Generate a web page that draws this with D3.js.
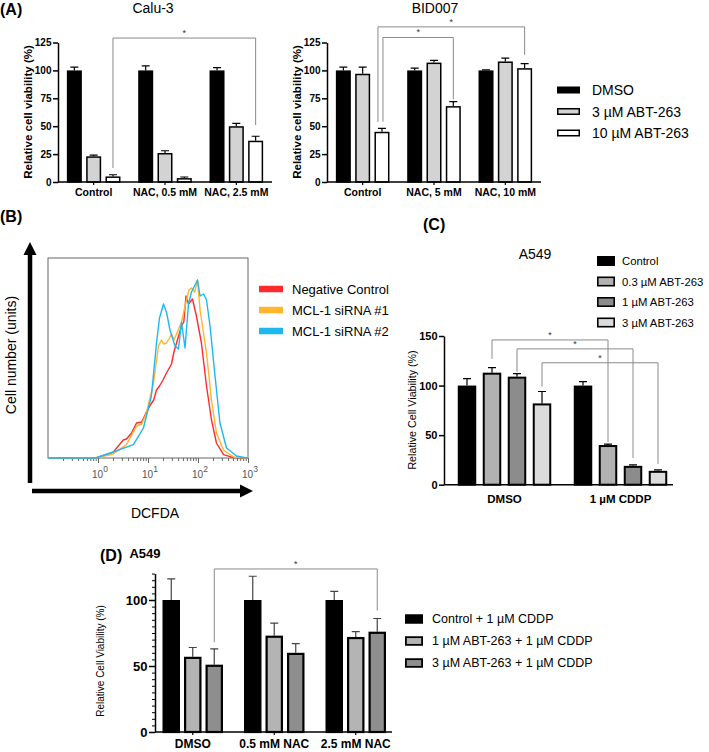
<!DOCTYPE html>
<html lang="en">
<head>
  <meta charset="UTF-8">
  <title>ABT-263 / NAC viability figure</title>
  <script src="https://d3js.org/d3.v7.min.js"></script>
  <style>
    body { margin: 0; background: #fff; font-family: 'Liberation Sans', Arial, sans-serif; }
    svg { display: block; }
  </style>
</head>
<body>
  <svg id="fig" width="709" height="752"></svg>

  <script>
    // ---- (A) Calu-3 / BID007
    const aSeries = ["DMSO", "3 µM ABT-263", "10 µM ABT-263"];
    const calu3Groups = ["Control", "NAC, 0.5 mM", "NAC, 2.5 mM"];
    const calu3Mean = [[100, 23, 5], [100, 26, 3.5], [100, 50, 37]];
    const calu3Err = [[3, 1, 1.5], [4, 2, 1], [2.5, 2.5, 4]];
    const bidGroups = ["Control", "NAC, 5 mM", "NAC, 10 mM"];
    const bidMean = [[100, 97, 45], [100, 107, 68], [100, 108, 102]];
    const bidErr = [[3, 6, 3], [2, 2, 4], [0.5, 3, 4]];
    const aTicks = [0, 25, 50, 75, 100, 125];
    // [fromGroup, fromSeries, toGroup, toSeries, fromValue, level, toValue]
    const calu3Brackets = [[0, 2, 2, 2, 12.5, 129, 51]];
    const bidBrackets = [[0, 2, 1, 2, 54, 129.5, 74], [0, 2, 2, 2, 54, 139, 114]];

    // ---- (B) DCFDA histograms: [intensity, count]
    const bSeries = ["Negative Control", "MCL-1 siRNA #1", "MCL-1 siRNA #2"];
    const negCtrl = [[0.1, 0], [0.9, 0], [2.0, 2.8], [3.2, 9], [3.7, 9.5], [4.7, 12.5], [5.5, 16], [5.9, 17.5],
      [7.5, 18], [9.3, 23], [11.5, 27], [13, 29], [14.8, 34], [17, 36], [20, 39], [23.4, 42.5], [29.5, 47],
      [33, 53], [37.2, 57.5], [46.8, 66], [52, 68], [57.5, 81], [64.6, 77], [77.6, 79.5], [93, 71],
      [117, 57.5], [148, 36], [186, 19], [234, 7.5], [324, 1.7], [513, 0.2], [1000, 0]];
    const mcl1 = [[0.1, 0], [0.9, 0], [2.0, 2], [3.7, 6.7], [5.9, 16], [7.5, 17], [9.3, 22.5], [12.9, 37.5],
      [16.2, 56], [18.6, 59], [20.4, 57], [23.4, 57.5], [27, 60], [29.5, 62], [33, 59], [37.2, 62],
      [46.8, 68], [58.9, 79], [66, 84], [74, 85], [86, 83], [97.7, 89], [110, 74], [148, 52.5],
      [186, 29], [234, 12.5], [324, 4], [513, 0.5], [1000, 0]];
    const mcl2 = [[0.1, 0], [0.9, 0], [2.0, 3], [5.1, 6.7], [8.1, 15], [11.7, 31], [14.8, 57.5], [17, 70],
      [20.4, 77], [23.4, 73], [27.5, 64], [34.7, 56], [40.7, 54.5], [46.8, 68], [55, 55], [64.6, 77],
      [74, 83], [97.7, 89], [110, 81], [129, 82], [148, 79], [174, 66], [219, 41], [275, 17.5],
      [372, 5], [589, 1], [933, 0], [1000, 0]];
    const bMajorTicks = [1, 10, 100, 1000];
    const bTickExp = ["0", "1", "2", "3"];

    // ---- (C) A549, CDDP
    const cSeries = ["Control", "0.3 µM ABT-263", "1 µM ABT-263", "3 µM ABT-263"];
    const cGroups = ["DMSO", "1 µM CDDP"];
    const cMean = [[100, 113, 109, 82], [100, 40, 19, 14]];
    const cErr = [[7, 5, 3, 12], [4, 1, 1, 1]];
    const cTicks = [0, 50, 100, 150];
    const cBrackets = [[0, 1, 1, 1, 127, 146, 43], [0, 2, 1, 2, 114, 137, 27], [0, 3, 1, 3, 99, 123, 21]];

    // ---- (D) A549, NAC + CDDP
    const dSeries = ["Control + 1 µM CDDP", "1 µM ABT-263 + 1 µM CDDP", "3 µM ABT-263 + 1 µM CDDP"];
    const dGroups = ["DMSO", "0.5 mM NAC", "2.5 mM NAC"];
    const dMean = [[100, 57, 51], [100, 73, 60], [100, 72, 76]];
    const dErr = [[16, 7, 12], [18, 9.5, 7], [6.5, 4, 10]];
    const dTicks = [0, 50, 100];
    const dBrackets = [[0, 2, 2, 2, 68, 123.5, 92]];

    const svg = d3.select("#fig");
    const FONT = "'Liberation Sans', Arial, sans-serif";

    function txt(x, y, s, size, opts = {}) {
      const t = svg.append("text").attr("x", x).attr("y", y).text(s)
        .attr("font-family", FONT).attr("font-size", size)
        .attr("font-weight", opts.bold ? "bold" : "normal")
        .attr("fill", opts.fill || "#000")
        .attr("text-anchor", opts.anchor || "start");
      if (opts.rotate) t.attr("transform", `rotate(-90,${x},${y})`).attr("dominant-baseline", "central");
      return t;
    }

    function barPanel(cfg) {
      const g = svg.append("g");
      const y = cfg.y;
      const x0 = d3.scaleBand().domain(cfg.groups).range(cfg.xRange);
      const span = cfg.step * (cfg.series.length - 1) + cfg.barW;
      const x1 = d3.scaleBand().domain(cfg.series).range([-span / 2, span / 2])
        .paddingInner(1 - cfg.barW / cfg.step);
      const cx = (gi, si) => x0(cfg.groups[gi]) + x0.bandwidth() / 2 + x1(cfg.series[si]) + cfg.barW / 2;

      const cells = cfg.groups.flatMap((grp, gi) => cfg.series.map((s, si) =>
        ({ gi, si, v: cfg.means[gi][si], e: cfg.errs[gi][si] })));

      // brackets behind the bars
      const br = g.append("g").attr("fill", "none").attr("stroke", "#8a8a8a").attr("stroke-width", 1);
      cfg.brackets.forEach((b, i) => {
        const shift = cfg.bracketShift ? cfg.bracketShift[i] : 0;
        const xa = cx(b[0], b[1]) + shift, xb = cx(b[2], b[3]);
        br.append("path").attr("d", `M${xa},${y(b[4])}V${y(b[5])}H${xb}V${y(b[6])}`);
        g.append("text").attr("x", (xa + xb) / 2).attr("y", y(b[5]) - 2).text("*")
          .attr("text-anchor", "middle").attr("font-size", 9).attr("font-family", FONT).attr("fill", "#333");
      });

      // error bars
      const eg = g.append("g").attr("stroke", cfg.errColor || "#000").attr("stroke-width", 1.2);
      eg.selectAll("path").data(cells).join("path")
        .attr("fill", "none")
        .attr("d", d => {
          const c = cx(d.gi, d.si), top = y(d.v + d.e);
          return `M${c},${y(d.v)}V${top}M${c - cfg.capW / 2},${top}H${c + cfg.capW / 2}`;
        });

      // bars
      const sw = cfg.barStroke;
      g.append("g").selectAll("rect").data(cells).join("rect")
        .attr("x", d => cx(d.gi, d.si) - cfg.barW / 2 + sw / 2)
        .attr("width", cfg.barW - sw)
        .attr("y", d => y(d.v) + sw / 2)
        .attr("height", d => Math.max(0, y(0) - y(d.v) - sw / 2))
        .attr("fill", d => cfg.fills[d.si])
        .attr("stroke", "#000").attr("stroke-width", sw);

      // y axis
      const ya = g.append("g").attr("transform", `translate(${cfg.axisX},0)`);
      if (cfg.minorTicks) {
        ya.append("g").call(d3.axisLeft(y).tickValues(cfg.minorTicks).tickSize(3).tickFormat("").tickSizeOuter(0))
          .call(s => s.select(".domain").remove())
          .call(s => s.selectAll("line").attr("stroke-width", 1));
      }
      ya.append("g").call(d3.axisLeft(y).tickValues(cfg.yTicks).tickSize(cfg.yTickSize).tickPadding(cfg.yPad).tickSizeOuter(0))
        .call(s => s.select(".domain").attr("stroke-width", 1.5))
        .call(s => s.selectAll("line").attr("stroke-width", 1.5))
        .call(s => s.selectAll("text").attr("font-family", FONT).attr("font-weight", "bold")
          .attr("font-size", cfg.yFont).attr("fill", "#000"));

      // x axis
      g.append("g").attr("transform", `translate(0,${y(0)})`)
        .call(d3.axisBottom(x0).tickSize(cfg.xTickSize).tickPadding(cfg.xPad).tickSizeOuter(0))
        .call(s => s.select(".domain").attr("d", `M${cfg.axisX},0H${cfg.xEnd}`).attr("stroke-width", 1.5))
        .call(s => s.selectAll("line").attr("stroke-width", 1.2))
        .call(s => s.selectAll("text").attr("font-family", FONT).attr("font-weight", "bold")
          .attr("font-size", cfg.xFont).attr("fill", "#000"));
    }

    function legend(x, y0, dy, labels, fills, sw, w, h, size, gap, stroke) {
      labels.forEach((lab, i) => {
        const cy = y0 + i * dy;
        svg.append("rect").attr("x", x + sw / 2).attr("y", cy - h / 2 + sw / 2)
          .attr("width", w - sw).attr("height", h - sw)
          .attr("fill", fills[i]).attr("stroke", stroke ? stroke : fills[i]).attr("stroke-width", sw);
        txt(x + w + gap, cy, lab, size).attr("dominant-baseline", "central");
      });
    }

    // ================= (A)
    const aFills = ["#000", "#d3d3d3", "#fff"];
    const yA = d3.scaleLinear().domain([0, 125]).range([182, 42.5]);
    const aCommon = {
      series: aSeries, y: yA, step: 19.3, barW: 15, capW: 8, barStroke: 1.5,
      fills: aFills, yTicks: aTicks, yTickSize: 5, yPad: 1.5, yFont: 10,
      xTickSize: 3, xPad: 4, xFont: 10.5
    };
    barPanel({ ...aCommon, groups: calu3Groups, means: calu3Mean, errs: calu3Err,
      xRange: [58, 272], axisX: 58, xEnd: 272, brackets: calu3Brackets });
    barPanel({ ...aCommon, groups: bidGroups, means: bidMean, errs: bidErr,
      xRange: [327, 541], axisX: 327, xEnd: 541, brackets: bidBrackets, bracketShift: [1, -4] });

    txt(0, 15, "(A)", 16, { bold: true });
    txt(153, 13, "Calu-3", 14, { anchor: "middle" });
    txt(435, 13, "BID007", 14, { anchor: "middle" });
    txt(28, 112, "Relative cell viability (%)", 11.5, { bold: true, anchor: "middle", rotate: true });
    txt(297, 112, "Relative cell viability (%)", 11.5, { bold: true, anchor: "middle", rotate: true });
    legend(557, 90, 21.5, aSeries, aFills, 1.5, 23, 7, 14, 12, "#000");

    // ================= (B)
    const bColors = ["#ff2b2b", "#ffb52e", "#1eb8f0"];
    const xB = d3.scaleLog().domain([0.1, 1000]).range([48, 248]);
    const yB = d3.scaleLinear().domain([0, 100]).range([458, 258]);
    const minorB = [];
    [0.1, 1, 10, 100].forEach(d => d3.range(2, 10).forEach(k => minorB.push(k * d)));

    svg.append("rect").attr("x", 48).attr("y", 258).attr("width", 200).attr("height", 200)
      .attr("fill", "none").attr("stroke", "#666").attr("stroke-width", 1);
    const bAx = svg.append("g").attr("transform", `translate(0,${yB(0)})`);
    bAx.append("g").call(d3.axisBottom(xB).tickValues(minorB).tickSize(3).tickFormat("").tickSizeOuter(0))
      .call(s => s.select(".domain").remove()).call(s => s.selectAll("line").attr("stroke", "#666"));
    bAx.append("g").call(d3.axisBottom(xB).tickValues(bMajorTicks).tickSize(5).tickFormat("").tickSizeOuter(0))
      .call(s => s.select(".domain").remove()).call(s => s.selectAll("line").attr("stroke", "#666"));
    bMajorTicks.forEach((v, i) => {
      const t = txt(xB(v) + 2, 478, "10", 10, { anchor: "middle", fill: "#555" });
      t.append("tspan").attr("dy", -6).attr("font-size", 8.5).text(bTickExp[i]);
    });

    const lineB = d3.line().x(d => xB(d[0])).y(d => yB(d[1]));
    [negCtrl, mcl1, mcl2].forEach((pts, i) => {
      svg.append("path").datum(pts).attr("d", lineB).attr("fill", "none")
        .attr("stroke", bColors[i]).attr("stroke-width", 1.4).attr("stroke-linejoin", "round");
    });
    legend(259, 289, 21, bSeries, bColors, 0, 24, 6.5, 13, 9);

    // arrows
    svg.append("line").attr("x1", 30).attr("x2", 30).attr("y1", 483).attr("y2", 252)
      .attr("stroke", "#000").attr("stroke-width", 4.5);
    svg.append("path").attr("d", "M23.5,255L36.5,255L30,242Z").attr("fill", "#000");
    svg.append("line").attr("x1", 32).attr("x2", 242).attr("y1", 491).attr("y2", 491)
      .attr("stroke", "#000").attr("stroke-width", 4.5);
    svg.append("path").attr("d", "M240,484.5L240,497.5L253,491Z").attr("fill", "#000");
    txt(0, 222, "(B)", 16, { bold: true });
    txt(11, 355, "Cell number (units)", 14, { anchor: "middle", rotate: true });
    txt(155, 518, "DCFDA", 14, { anchor: "middle" });

    // ================= (C)
    const cFills = ["#000", "#b2b2b2", "#8c8c8c", "#dcdcdc"];
    const yC = d3.scaleLinear().domain([0, 150]).range([484.7, 336]);
    barPanel({
      groups: cGroups, series: cSeries, means: cMean, errs: cErr, y: yC,
      xRange: [446.5, 678.5], axisX: 444, xEnd: 673, step: 25, barW: 18.5, capW: 8, barStroke: 2,
      fills: cFills, yTicks: cTicks, yTickSize: 5, yPad: 1.5, yFont: 11,
      xTickSize: 0, xPad: 10, xFont: 11.5, brackets: cBrackets
    });
    txt(423, 230, "(C)", 16, { bold: true });
    txt(535, 259, "A549", 14, { anchor: "middle" });
    txt(412, 410, "Relative Cell Viability (%)", 10.7, { anchor: "middle", rotate: true });
    legend(597, 261, 20.5, cSeries, cFills, 1.6, 18, 10, 11.3, 7, "#000");

    // ================= (D)
    const dFills = ["#000", "#b4b4b4", "#8e8e8e"];
    const yD = d3.scaleLinear().domain([0, 120]).range([732, 573.6]);
    barPanel({
      groups: dGroups, series: dSeries, means: dMean, errs: dErr, y: yD,
      xRange: [152, 396.5], axisX: 155, xEnd: 392, step: 21.5, barW: 17.5, capW: 8, barStroke: 2.2,
      fills: dFills, yTicks: dTicks, yTickSize: 6, yPad: 1.5, yFont: 13,
      minorTicks: d3.range(0, 121, 5).filter(v => v % 50 !== 0),
      xTickSize: 3, xPad: 4, xFont: 12, brackets: dBrackets, errColor: "#444"
    });
    txt(100, 561, "(D)", 16, { bold: true });
    txt(145, 558, "A549", 13, { bold: true, anchor: "middle" });
    txt(100, 661, "Relative Cell Viability (%)", 10, { anchor: "middle", rotate: true });
    legend(405, 619, 22, dSeries, dFills, 1.8, 18, 9.5, 12.5, 9, "#000");
  </script>
</body>
</html>
